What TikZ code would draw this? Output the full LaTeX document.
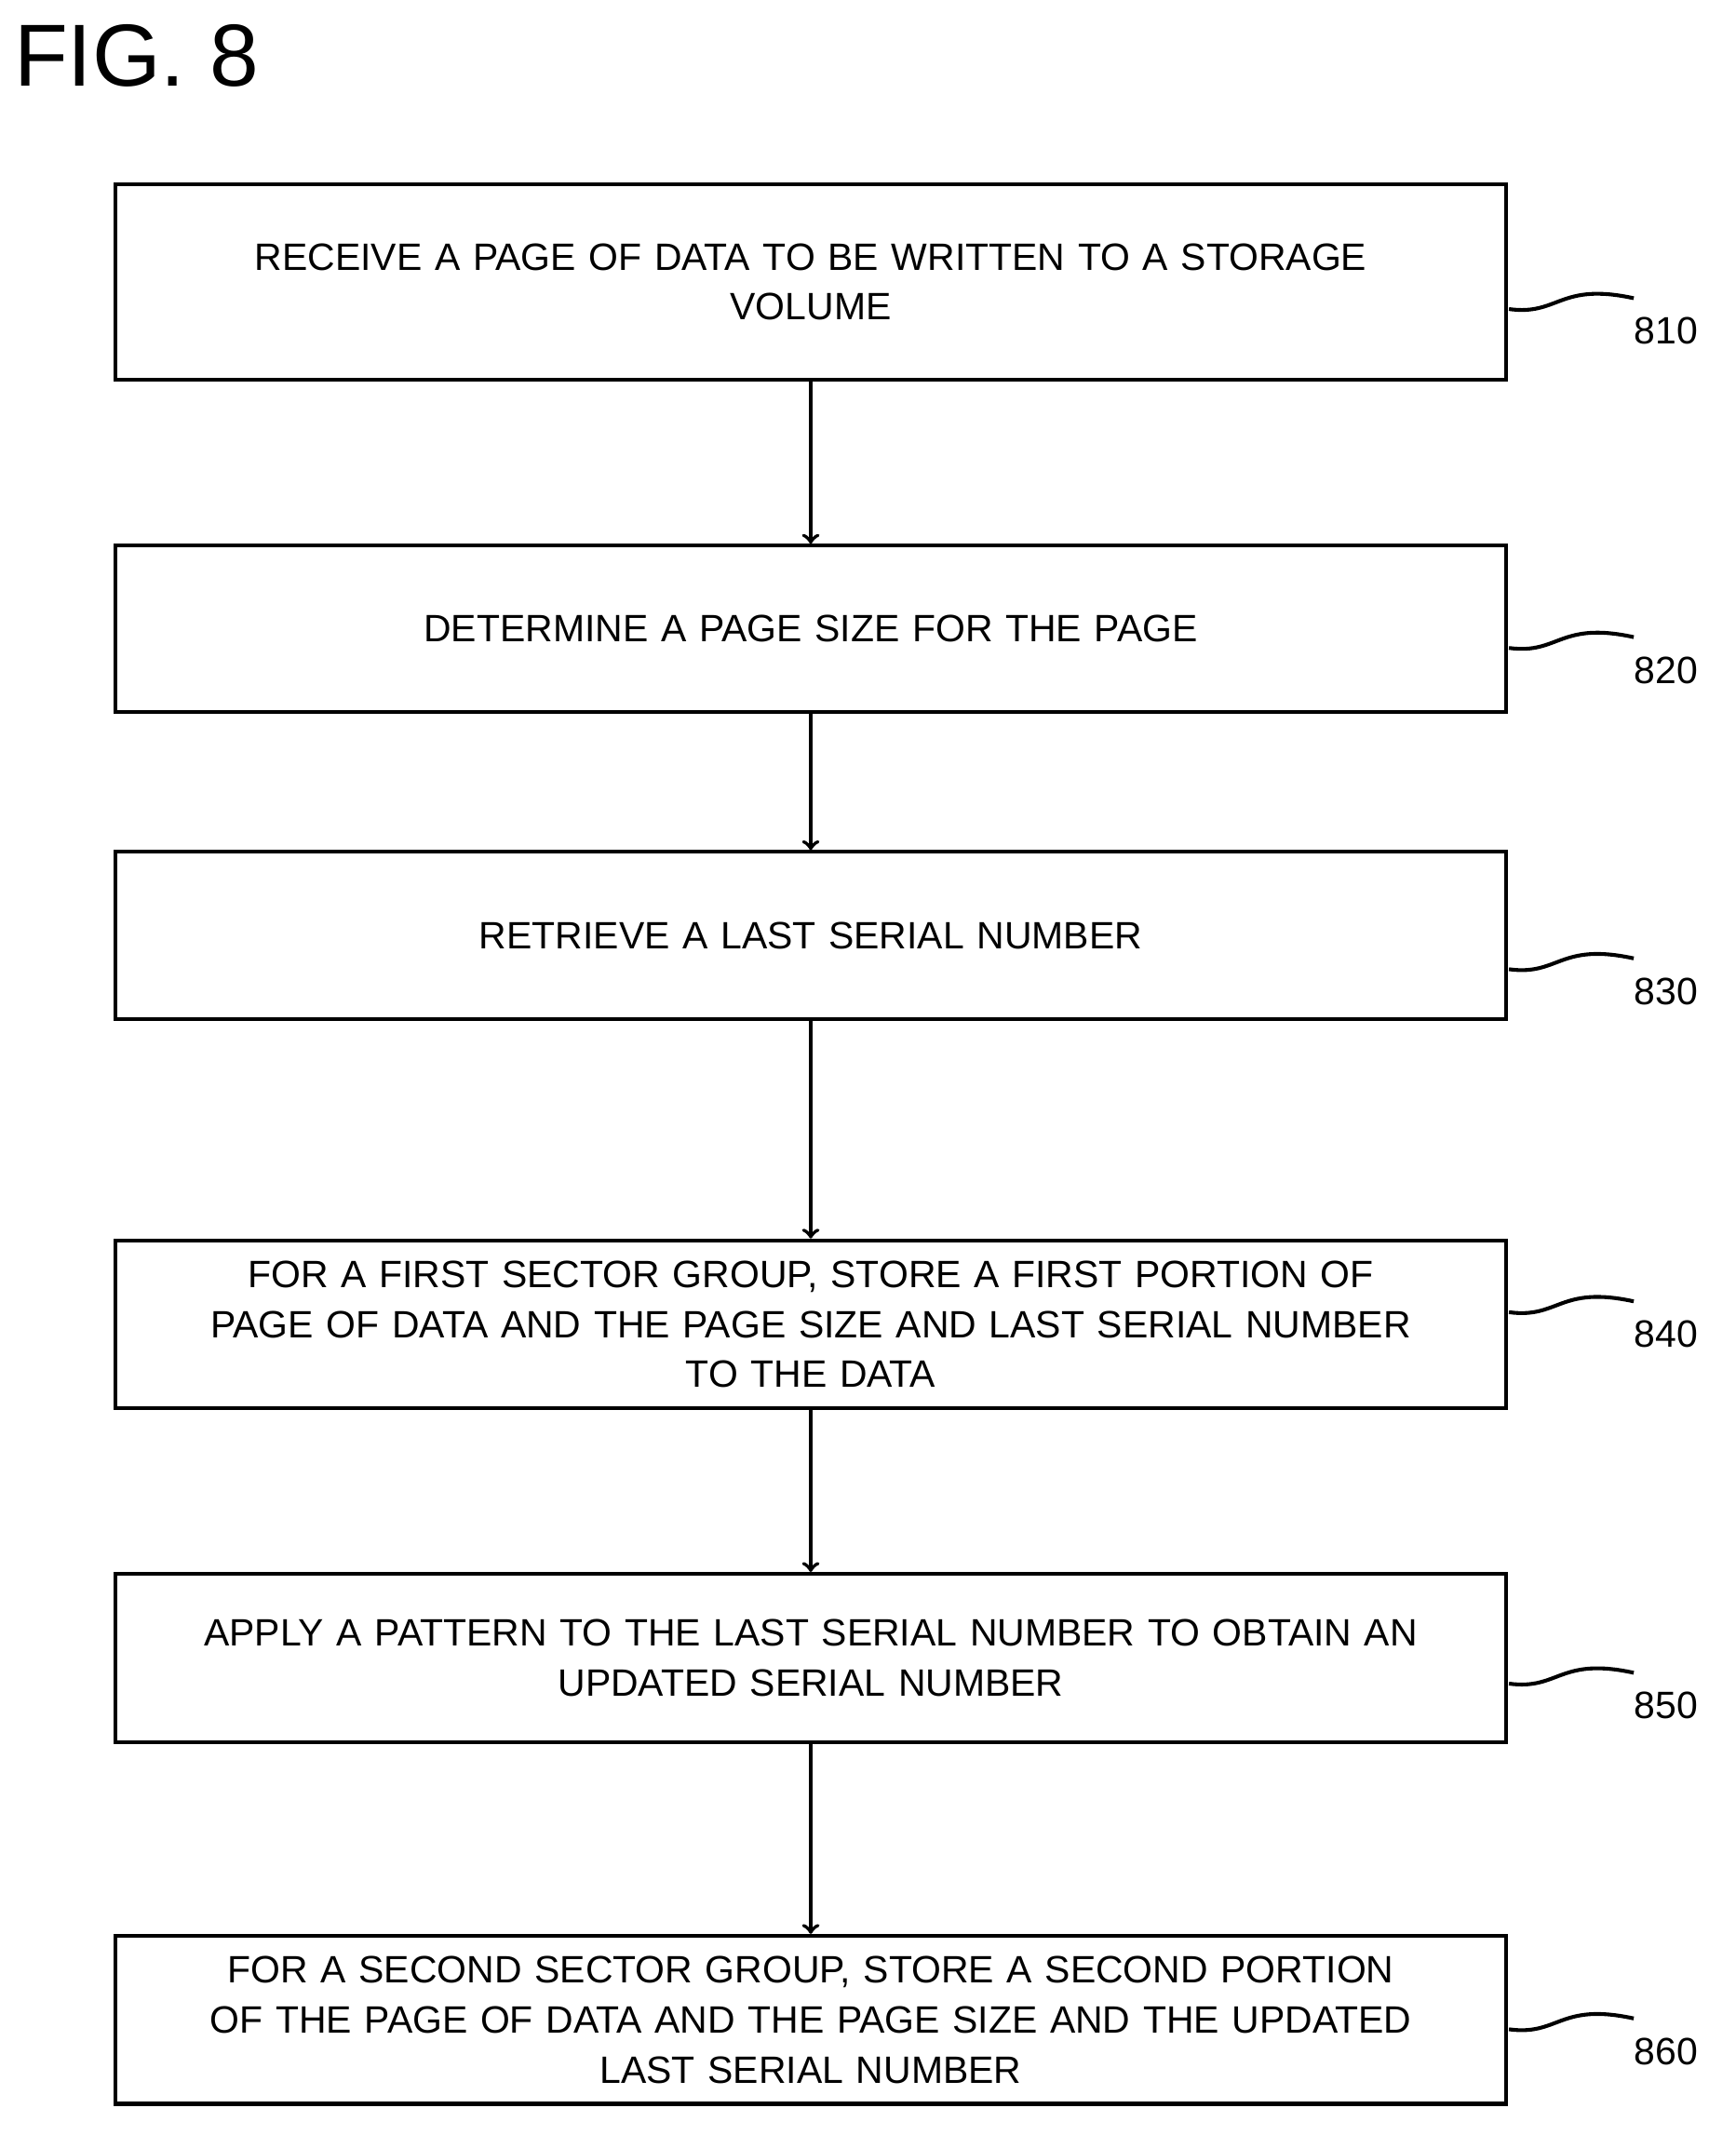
\documentclass[tikz,border=0pt]{standalone}
\usepackage{fontspec}
\setmainfont{Liberation Sans}
\usetikzlibrary{positioning}
\tikzstyle{stepbox} = [draw, line width=1.6pt, minimum width=20.52cm, align=center,
    text width=20cm, font=\fontsize{16}{21}\selectfont, inner sep=0pt]
\tikzstyle{tag} = [font=\fontsize{16}{21}\selectfont, anchor=north west, inner sep=0pt]

\begin{document}
\begin{tikzpicture}[x=0.02cm,y=-0.02cm]
  \useasboundingbox (0,0) rectangle (1280,1575);
  \node[font=\fontsize{37}{40}\selectfont, anchor=north west, inner sep=0pt] (fig) at (10,18) {FIG. 8};

  \node[stepbox, minimum height=2.88cm] (s810) at (598,208) {RECEIVE A PAGE OF DATA TO BE WRITTEN TO A STORAGE\\VOLUME};
  \node[stepbox, minimum height=2.46cm] (s820) at (598,464) {DETERMINE A PAGE SIZE FOR THE PAGE};
  \node[stepbox, minimum height=2.46cm] (s830) at (598,690) {RETRIEVE A LAST SERIAL NUMBER};
  \node[stepbox, minimum height=2.48cm] (s840) at (598,977) {FOR A FIRST SECTOR GROUP, STORE A FIRST PORTION OF\\PAGE OF DATA AND THE PAGE SIZE AND LAST SERIAL NUMBER\\TO THE DATA};
  \node[stepbox, minimum height=2.48cm] (s850) at (598,1223) {APPLY A PATTERN TO THE LAST SERIAL NUMBER TO OBTAIN AN\\UPDATED SERIAL NUMBER};
  \node[stepbox, minimum height=2.48cm] (s860) at (598,1490) {FOR A SECOND SECTOR GROUP, STORE A SECOND PORTION\\OF THE PAGE OF DATA AND THE PAGE SIZE AND THE UPDATED\\LAST SERIAL NUMBER};

  \foreach \a/\b in {s810/s820, s820/s830, s830/s840, s840/s850, s850/s860}
    \draw[line width=1.6pt, ->] (\a) -- (\b);

  % reference numerals
  \foreach \n/\y in {810/228, 820/478, 830/715, 840/968, 850/1242, 860/1497} {
    \coordinate (c\n) at (1113,\y);
    \draw[line width=1.6pt] (c\n) .. controls (1150,\y+5) and (1150,\y-20) .. (1205,\y-8);
    \node[tag] (t\n) at (1205,\y+6) {\n};
  }
\end{tikzpicture}
\end{document}
